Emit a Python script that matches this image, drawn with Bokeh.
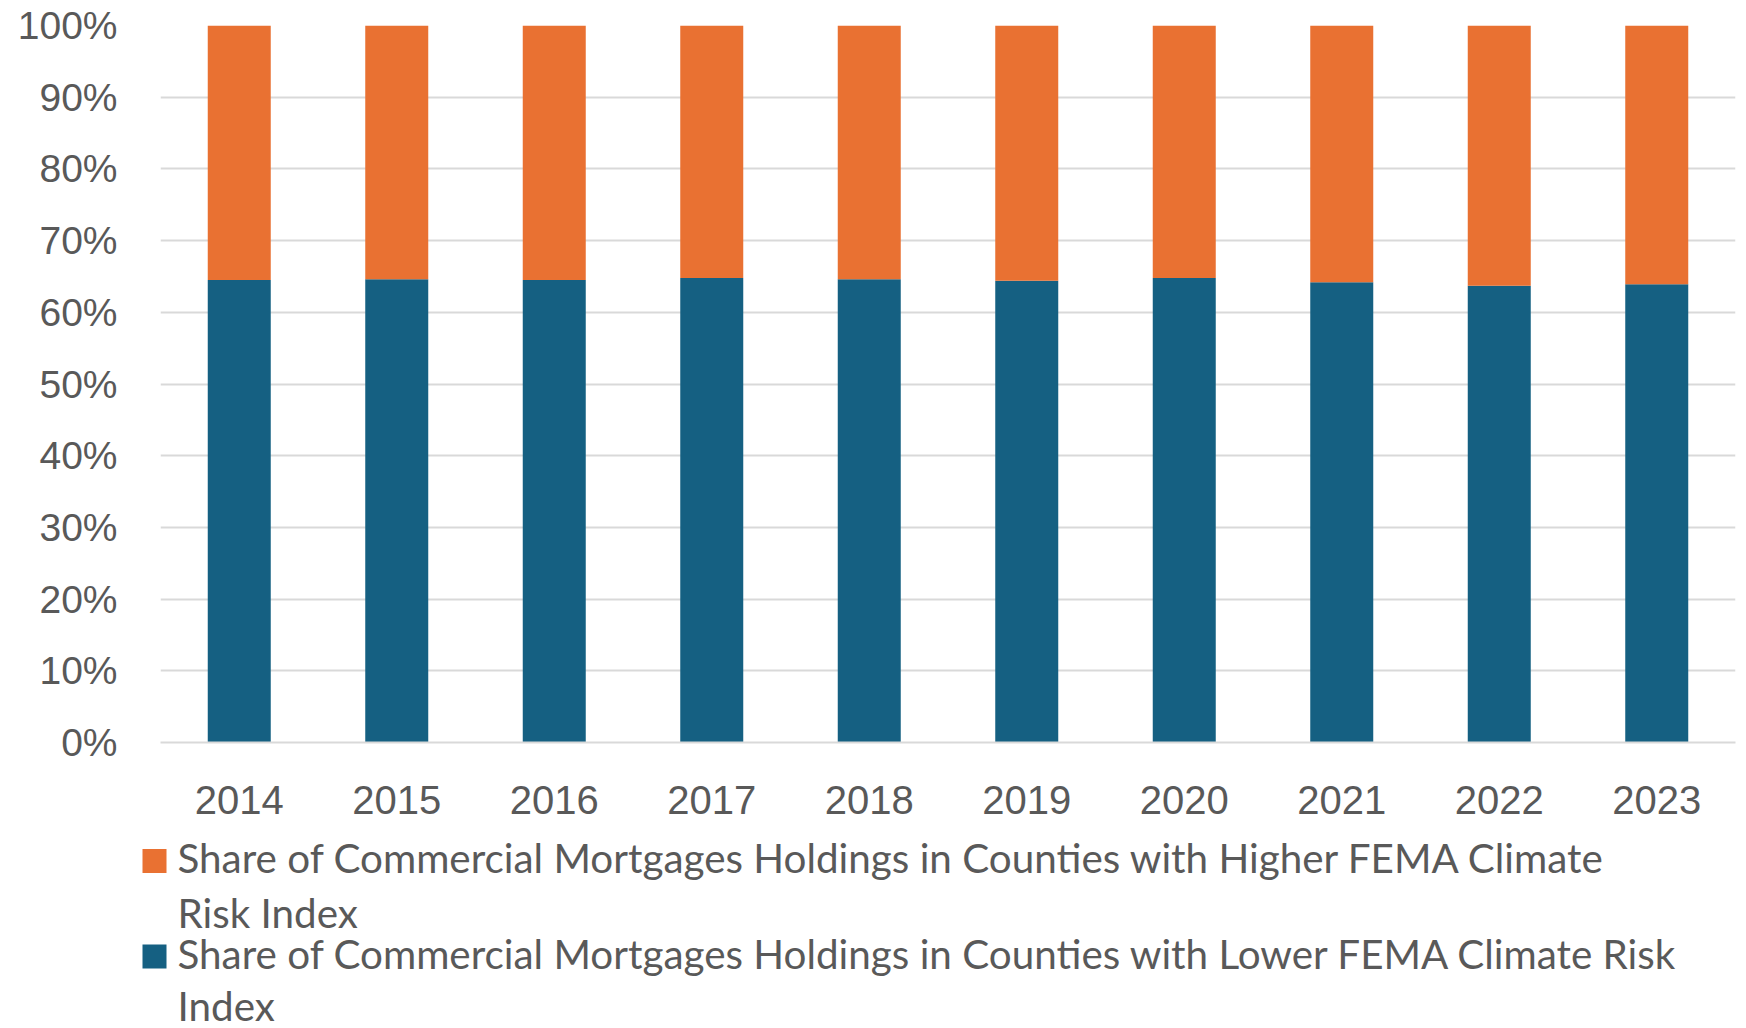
from bokeh.plotting import figure
from bokeh.models import FactorRange, Range1d, NumeralTickFormatter, FixedTicker
from bokeh.layouts import column
from bokeh.core.properties import value
from bokeh.embed import file_html
from bokeh.resources import INLINE

years = ["2014", "2015", "2016", "2017", "2018", "2019", "2020", "2021", "2022", "2023"]
lower_share = [0.645, 0.646, 0.645, 0.648, 0.646, 0.644, 0.648, 0.642, 0.637, 0.639]
higher_share = [round(1 - v, 4) for v in lower_share]
y_ticks = [0, 0.1, 0.2, 0.3, 0.4, 0.5, 0.6, 0.7, 0.8, 0.9, 1.0]
legend_higher_lines = ["Share of Commercial Mortgages Holdings in Counties with Higher FEMA Climate",
                       "Risk Index"]
legend_lower_lines = ["Share of Commercial Mortgages Holdings in Counties with Lower FEMA Climate Risk",
                      "Index"]

BLUE = "#156082"
ORANGE = "#E97132"
TEXT = "#595959"
GRID = "#D9D9D9"

W = 1738
TOP_B = 25
FRAME_H = 717
BOT_B = 88
MAIN_H = TOP_B + FRAME_H + BOT_B
LEG_H = 1028 - MAIN_H

p = figure(x_range=FactorRange(*years), y_range=Range1d(0, 1),
           frame_width=1575, frame_height=FRAME_H,
           min_border_left=160, min_border_top=TOP_B, min_border_right=3,
           min_border_bottom=BOT_B,
           output_backend="svg", toolbar_location=None)
p.frame_align = False

data = dict(year=years, lower=lower_share, higher=higher_share)
p.vbar_stack(["lower", "higher"], x="year", width=0.4, source=data,
             color=[BLUE, ORANGE], line_color=None)

p.outline_line_color = None
p.background_fill_color = "white"
p.border_fill_color = "white"

p.xgrid.grid_line_color = None
p.ygrid.grid_line_color = GRID
p.ygrid.grid_line_width = 2
p.yaxis.ticker = FixedTicker(ticks=y_ticks)
p.yaxis.formatter = NumeralTickFormatter(format="0%")

for ax in (p.xaxis[0], p.yaxis[0]):
    ax.major_tick_line_color = None
    ax.minor_tick_line_color = None
    ax.major_tick_out = 0
    ax.major_tick_in = 0
    ax.major_label_text_color = TEXT
    ax.major_label_text_font = "Liberation Sans"
p.yaxis.axis_line_color = None
p.xaxis.axis_line_color = GRID
p.xaxis.axis_line_width = 2
p.yaxis.major_label_text_font_size = "39px"
p.xaxis.major_label_text_font_size = "40px"
p.xaxis.major_label_text_line_height = 1.0
p.yaxis.major_label_standoff = 43
p.xaxis.major_label_standoff = 43

# Legend panel (pixel-like coordinates: x from left, y up from bottom)
leg = figure(x_range=Range1d(0, W), y_range=Range1d(0, LEG_H),
             frame_width=W, frame_height=LEG_H, min_border=0,
             x_axis_location=None, y_axis_location=None,
             output_backend="svg", toolbar_location=None)
leg.frame_align = False
leg.grid.visible = False
leg.outline_line_color = None
leg.background_fill_color = "white"
leg.border_fill_color = "white"

def Y(page_y):
    return MAIN_H + LEG_H - page_y

leg.rect(x=[154, 154], y=[Y(860.5), Y(956)], width=24, height=24,
         color=[ORANGE, BLUE], line_color=None)
texts = legend_higher_lines + legend_lower_lines
baselines = [856.5, 911.5, 952.5, 1004.5]
leg.text(x=[177] * 4, y=[Y(b) for b in baselines], text=texts,
         text_font=value("Lato"), text_font_size="40.4px", text_color=TEXT,
         text_align="left", text_baseline="alphabetic")

layout = column(p, leg, spacing=0)
open("out.html", "w").write(file_html(layout, INLINE))
